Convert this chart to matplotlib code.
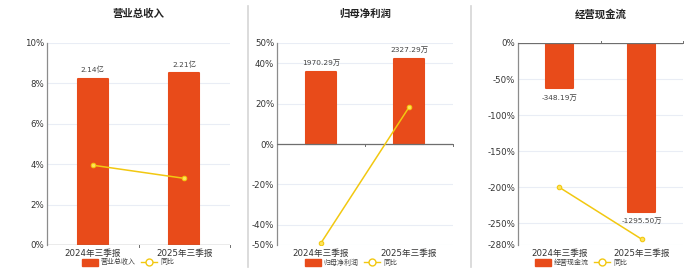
import numpy as np
import matplotlib
matplotlib.use("Agg")
import matplotlib.pyplot as plt
from matplotlib.patches import Patch
from matplotlib.lines import Line2D

plt.rcParams["font.family"] = ["DejaVu Sans", "Noto Sans CJK SC"]

# data
categories = ["2024年三季报", "2025年三季报"]
titles = ["营业总收入", "归母净利润", "经营现金流"]
bar_values = [[2.14, 2.21], [1970.29, 2327.29], [-348.19, -1295.50]]
bar_labels = [["2.14亿", "2.21亿"], ["1970.29万", "2327.29万"], ["-348.19万", "-1295.50万"]]
yoy_values = [[3.95, 3.30], [-49.0, 18.2], [-200.0, -272.0]]
pct_ticks = [[0, 2, 4, 6, 8, 10],
             [-50, -40, -20, 0, 20, 40, 50],
             [-280, -250, -200, -150, -100, -50, 0]]
pct_limits = [(0, 10), (-50, 50), (-280, 0)]
bar_limits = [(0, 2.6), (-2750, 2750), (-1550, 0)]

BAR = "#E84B1A"
LINE = "#F2C811"
GRID = "#E9EDF5"
AXIS = "#8C8C8C"
TXT = "#333333"

fig = plt.figure(figsize=(7.0, 2.72), dpi=100)

# axes boxes in pixels: left, right, top, bottom
boxes = [(47, 230, 43, 245), (277, 453, 43, 245), (518, 683, 43, 245)]
legend_x = [128, 351, 581]

for k in range(3):
    l, r, t, b = boxes[k]
    ax = fig.add_axes([l / 700, 1 - b / 272, (r - l) / 700, (b - t) / 272])
    axb = ax.twinx()
    axb.set_zorder(ax.get_zorder() - 1)
    ax.patch.set_visible(False)
    axb.patch.set_visible(True)
    axb.patch.set_facecolor("white")

    x = np.arange(len(categories))
    lo, hi = pct_limits[k]
    blo, bhi = bar_limits[k]
    ax.set_ylim(lo, hi)
    axb.set_ylim(blo, bhi)
    ax.set_xlim(-0.5, 1.5)

    # grid on bar axis at positions matching the percent ticks
    scale = (bhi - blo) / (hi - lo)
    axb.set_yticks([blo + (v - lo) * scale for v in pct_ticks[k]])
    axb.yaxis.grid(True, color=GRID, linewidth=0.8)
    axb.tick_params(axis="y", right=False, labelright=False)
    for s in axb.spines.values():
        s.set_visible(False)

    axb.bar(x, bar_values[k], width=0.33, color=BAR, edgecolor=BAR,
            linewidth=1.5, joinstyle="round", zorder=3)
    for xi, v, lab in zip(x, bar_values[k], bar_labels[k]):
        off = 4 if v >= 0 else -4
        axb.annotate(lab, (xi, v), xytext=(0, off), textcoords="offset points",
                     ha="center", va="bottom" if v >= 0 else "top",
                     fontsize=5.3, color="#444444")

    ax.plot(x, yoy_values[k], color=LINE, linewidth=1.1, marker="o",
            markersize=3.2, markerfacecolor="#FFE45C", markeredgecolor=LINE,
            markeredgewidth=0.8, zorder=5)

    ax.set_yticks(pct_ticks[k])
    ax.set_yticklabels([f"{v}%" for v in pct_ticks[k]])
    ax.tick_params(axis="y", length=0, labelsize=6.2, labelcolor=TXT, pad=2)
    ax.set_xticks(x)
    ax.set_xticklabels(categories)
    ax.tick_params(axis="x", length=0, labelsize=6.2, labelcolor=TXT, pad=3)

    for s in ["top", "right", "bottom"]:
        ax.spines[s].set_visible(False)
    ax.spines["left"].set_color(AXIS)
    ax.spines["left"].set_linewidth(0.9)
    # zero line with small ticks between categories and at the end
    ax.axhline(0, color="#6E6E6E", linewidth=0.9, zorder=4)
    tick_dir = -1 if k < 2 else 1
    tick_len = (hi - lo) * 0.012 * tick_dir
    for tx in [0.5, 1.5]:
        ax.plot([tx, tx], [0, tick_len], color="#6E6E6E", linewidth=0.7,
                clip_on=False)

    fig.text((l + r) / 2 / 700, 1 - 14 / 272, titles[k], ha="center",
             va="center", fontsize=7.5, fontweight="bold", color="#222222")

    handles = [Patch(facecolor=BAR, edgecolor=BAR, joinstyle="round"),
               Line2D([], [], color=LINE, linewidth=1.0, marker="o",
                      markersize=5, markerfacecolor="white",
                      markeredgecolor=LINE, markeredgewidth=1.0)]
    fig.legend(handles, [titles[k], "同比"], loc="center",
               bbox_to_anchor=(legend_x[k] / 700, 1 - 262 / 272), ncol=2,
               frameon=False, fontsize=5, handlelength=2.3, handleheight=1.2,
               handletextpad=0.4, columnspacing=0.8, labelcolor="#444444",
               borderpad=0)

# separators between panels
for sx in [248, 471]:
    fig.add_artist(Line2D([sx / 700, sx / 700], [1 - 267 / 272, 1 - 6 / 272],
                          color="#D5D5D5", linewidth=1.2))

fig.savefig("out.png", dpi=100)
